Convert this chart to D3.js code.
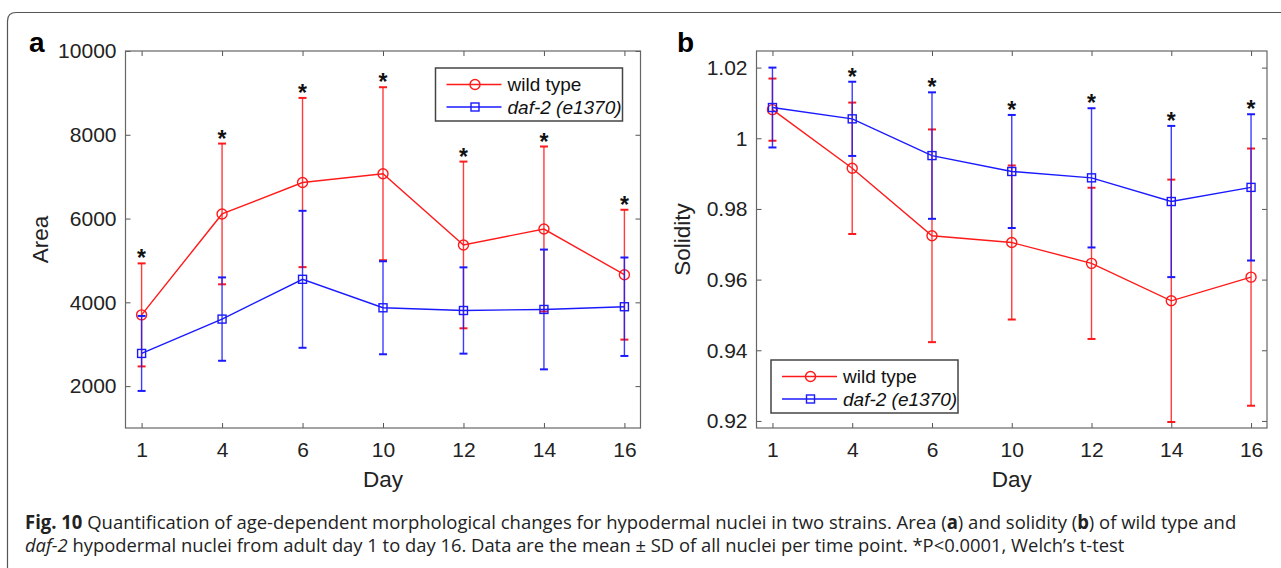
<!DOCTYPE html>
<html>
<head>
<meta charset="utf-8">
<script src="https://cdn.jsdelivr.net/npm/d3@7"></script>
<style>
  html, body { margin: 0; padding: 0; background: #fff; }
  svg { display: block; }
</style>
</head>
<body>
<svg id="chart" width="1281" height="568"></svg>
<script>
// ---------------- data ----------------
const days = ["1", "4", "6", "10", "12", "14", "16"];
const seriesNames = ["wild type", "daf-2 (e1370)"];

const areaWT      = [3700, 6110, 6860, 7070, 5370, 5750, 4660];
const areaWTsd    = [1230, 1680, 2020, 2065, 1990, 1970, 1550];
const areaDaf     = [2780, 3600, 4550, 3870, 3805, 3830, 3895];
const areaDafSd   = [ 895,  995, 1635, 1110, 1030, 1430, 1175];
const areaSig     = [true, true, true, true, true, true, true];
const areaTicks   = [2000, 4000, 6000, 8000, 10000];

const solWT       = [1.0081, 0.9915, 0.9724, 0.9705, 0.9646, 0.9540, 0.9607];
const solWTsd     = [0.0088, 0.0186, 0.0301, 0.0218, 0.0214, 0.0343, 0.0364];
const solDaf      = [1.0087, 1.0055, 0.9951, 0.9906, 0.9888, 0.9821, 0.9861];
const solDafSd    = [0.0113, 0.0105, 0.0179, 0.0160, 0.0197, 0.0214, 0.0207];
const solSig      = [false, true, true, true, true, true, true];
const solTicks    = [0.92, 0.94, 0.96, 0.98, 1.00, 1.02];

const captionLine1 = [
  {t: "Fig. 10", w: "bold"},
  {t: " Quantification of age-dependent morphological changes for hypodermal nuclei in two strains. Area ("},
  {t: "a", w: "bold"},
  {t: ") and solidity ("},
  {t: "b", w: "bold"},
  {t: ") of wild type and"}
];
const captionLine2 = [
  {t: "daf-2", s: "italic"},
  {t: " hypodermal nuclei from adult day 1 to day 16. Data are the mean \u00B1 SD of all nuclei per time point. *P<0.0001, Welch\u2019s t-test"}
];

// ---------------- style ----------------
const RED = "#ff1a1a", BLUE = "#1a1aff";
const FONT = "'Liberation Sans', Arial, Helvetica, sans-serif";
const svg = d3.select("#chart");

// outer frame
svg.append("path")
  .attr("d", "M7.5,568 L7.5,21 Q7.5,12.5 16,12.5 L1281,12.5")
  .attr("fill", "none").attr("stroke", "#555").attr("stroke-width", 1.2);

function drawPanel(cfg) {
  const g = svg.append("g");
  const x = d3.scaleLinear().domain([0.8, days.length + 0.2]).range([cfg.x0, cfg.x1]);
  const y = d3.scaleLinear().domain(cfg.yDomain).range([cfg.y1, cfg.y0]);
  const idx = days.map((d, i) => i + 1);

  // axes (inside ticks, all four sides)
  const axB = g.append("g").attr("transform", `translate(0,${cfg.y1})`)
    .call(d3.axisBottom(x).tickValues(idx).tickFormat(i => days[i - 1]).tickSize(-5).tickPadding(14.5));
  const axT = g.append("g").attr("transform", `translate(0,${cfg.y0})`)
    .call(d3.axisTop(x).tickValues(idx).tickFormat("").tickSize(-5));
  const axL = g.append("g").attr("transform", `translate(${cfg.x0},0)`)
    .call(d3.axisLeft(y).tickValues(cfg.ticks).tickFormat(cfg.fmt).tickSize(-5).tickPadding(9));
  const axR = g.append("g").attr("transform", `translate(${cfg.x1},0)`)
    .call(d3.axisRight(y).tickValues(cfg.ticks).tickFormat("").tickSize(-5));
  [axB, axT, axL, axR].forEach(a => {
    a.select(".domain").remove();
    a.selectAll("line").attr("stroke", "#555").attr("stroke-width", 1);
    a.selectAll("text").attr("font-family", FONT).attr("font-size", 21).attr("fill", "#222");
  });

  // box
  g.append("rect").attr("x", cfg.x0).attr("y", cfg.y0)
    .attr("width", cfg.x1 - cfg.x0).attr("height", cfg.y1 - cfg.y0)
    .attr("fill", "none").attr("stroke", "#666").attr("stroke-width", 1.2);

  const series = [
    {m: cfg.wt, sd: cfg.wtsd, color: RED, marker: "circle"},
    {m: cfg.daf, sd: cfg.dafsd, color: BLUE, marker: "square"}
  ];
  const line = d3.line().x((d, i) => x(i + 1)).y(d => y(d));
  series.forEach(s => {
    const sg = g.append("g").attr("stroke", s.color).attr("fill", "none").attr("stroke-width", 1.4);
    // error bars
    s.m.forEach((m, i) => {
      const xc = x(i + 1), yt = y(m + s.sd[i]), yb = y(m - s.sd[i]);
      sg.append("line").attr("x1", xc).attr("x2", xc).attr("y1", yt).attr("y2", yb).attr("stroke-opacity", 0.85);
      sg.append("line").attr("x1", xc - 4).attr("x2", xc + 4).attr("y1", yt).attr("y2", yt).attr("stroke-width", 2);
      sg.append("line").attr("x1", xc - 4).attr("x2", xc + 4).attr("y1", yb).attr("y2", yb).attr("stroke-width", 2);
    });
    sg.append("path").attr("d", line(s.m));
    s.m.forEach((m, i) => {
      if (s.marker === "circle") {
        sg.append("circle").attr("cx", x(i + 1)).attr("cy", y(m)).attr("r", 5);
      } else {
        sg.append("rect").attr("x", x(i + 1) - 4).attr("y", y(m) - 4).attr("width", 8).attr("height", 8);
      }
    });
  });

  // significance asterisks
  cfg.sig.forEach((s, i) => {
    if (!s) return;
    const top = Math.max(cfg.wt[i] + cfg.wtsd[i], cfg.daf[i] + cfg.dafsd[i]);
    g.append("text").attr("x", x(i + 1)).attr("y", y(top) + 3)
      .attr("text-anchor", "middle").attr("font-family", FONT).attr("font-size", 23)
      .attr("font-weight", "bold").attr("fill", "#111").text("*");
  });

  // legend
  const L = cfg.legend;
  const lg = g.append("g");
  lg.append("rect").attr("x", L.x).attr("y", L.y).attr("width", 187).attr("height", 53)
    .attr("fill", "#fff").attr("stroke", "#444").attr("stroke-width", 1.5);
  series.forEach((s, k) => {
    const yy = L.y + 16.5 + k * 22.5;
    lg.append("line").attr("x1", L.x + 11).attr("x2", L.x + 66).attr("y1", yy).attr("y2", yy)
      .attr("stroke", s.color).attr("stroke-width", 1.4);
    const mx = L.x + 39.5;
    if (s.marker === "circle") {
      lg.append("circle").attr("cx", mx).attr("cy", yy).attr("r", 5).attr("fill", "none")
        .attr("stroke", s.color).attr("stroke-width", 1.4);
    } else {
      lg.append("rect").attr("x", mx - 4).attr("y", yy - 4).attr("width", 8).attr("height", 8)
        .attr("fill", "none").attr("stroke", s.color).attr("stroke-width", 1.4);
    }
    lg.append("text").attr("x", L.x + 72).attr("y", yy + 6.5)
      .attr("font-family", FONT).attr("font-size", 19).attr("fill", "#111")
      .attr("font-style", k === 1 ? "italic" : "normal").text(seriesNames[k]);
  });

  // axis titles
  g.append("text").attr("x", (cfg.x0 + cfg.x1) / 2).attr("y", 487)
    .attr("text-anchor", "middle").attr("font-family", FONT).attr("font-size", 22.5)
    .attr("fill", "#222").text("Day");
  g.append("text").attr("transform", `translate(${cfg.ylabX},${(cfg.y0 + cfg.y1) / 2}) rotate(-90)`)
    .attr("text-anchor", "middle").attr("font-family", FONT).attr("font-size", 22.5)
    .attr("fill", "#222").text(cfg.ylabel);

  // panel letter
  g.append("text").attr("x", cfg.letterX).attr("y", 52)
    .attr("font-family", FONT).attr("font-size", 28).attr("font-weight", "bold")
    .attr("fill", "#000").text(cfg.letter);
}

drawPanel({
  x0: 125.5, x1: 640.5, y0: 51, y1: 428,
  yDomain: [1000, 10000], ticks: areaTicks, fmt: d3.format("d"),
  wt: areaWT, wtsd: areaWTsd, daf: areaDaf, dafsd: areaDafSd, sig: areaSig,
  legend: {x: 435.5, y: 68}, ylabel: "Area", ylabX: 48, letter: "a", letterX: 29
});

drawPanel({
  x0: 756.5, x1: 1267, y0: 51, y1: 428,
  yDomain: [0.918, 1.0247], ticks: solTicks, fmt: d => d3.format("")(+d.toFixed(2)),
  wt: solWT, wtsd: solWTsd, daf: solDaf, dafsd: solDafSd, sig: solSig,
  legend: {x: 771, y: 360}, ylabel: "Solidity", ylabX: 690, letter: "b", letterX: 677
});

// caption
function captionLine(parts, yBase, targetW) {
  const t = svg.append("text").attr("font-family", "'Open Sans', 'Noto Sans', sans-serif")
    .attr("font-size", 19).attr("fill", "#222");
  parts.forEach(p => {
    t.append("tspan").attr("font-weight", p.w || "normal").attr("font-style", p.s || "normal").text(p.t);
  });
  const w = t.node().getComputedTextLength();
  t.attr("transform", `translate(25,${yBase}) scale(${targetW / w},1)`);
}
captionLine(captionLine1, 529, 1212);
captionLine(captionLine2, 552, 1100);
</script>
</body>
</html>
